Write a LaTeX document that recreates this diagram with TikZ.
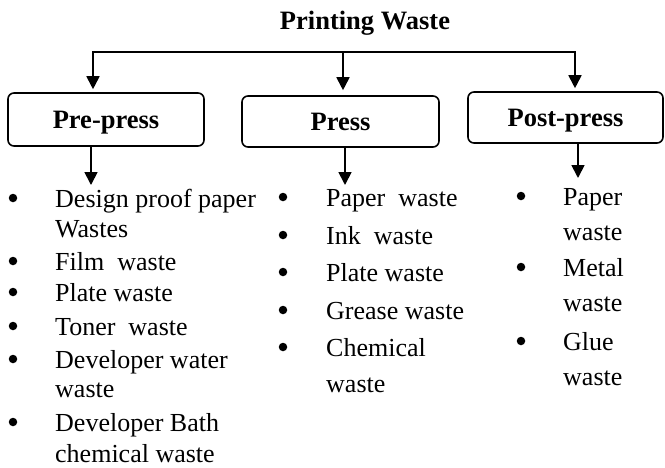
\documentclass[tikz,border=0pt]{standalone}
\usepackage{fontspec}
\setmainfont{Liberation Serif}
\usetikzlibrary{arrows.meta}
\begin{document}
\begin{tikzpicture}[x=1pt,y=-1pt,
  box/.style={draw,line width=1.6pt,rounded corners=6pt,inner sep=0pt,
    text height=18pt,text depth=0pt,font=\fontsize{26.5}{30}\selectfont\bfseries},
  arr/.style={line width=1.8pt,-{Triangle[length=13pt,width=13pt]}},
  item/.style={anchor=base west,inner sep=0pt,font=\fontsize{26}{30}\selectfont},
  dot/.style={circle,fill,inner sep=0pt,minimum size=8.5pt}]
\useasboundingbox (0,0) rectangle (665,467);
\node[anchor=base,inner sep=0pt,font=\fontsize{26.5}{30}\selectfont\bfseries] (title) at (365,29) {Printing Waste};
\node[box,minimum width=196pt,minimum height=53pt] (pre) at (106,119.5) {Pre-press};
\node[box,minimum width=197pt,minimum height=51pt] (press) at (340.5,121.5) {Press};
\node[box,minimum width=195pt,minimum height=51pt] (post) at (565.5,117.5) {Post-press};
\coordinate (j1) at (93,52);
\coordinate (j2) at (343,52);
\coordinate (j3) at (575,52);
\draw[arr,shorten >=3pt] (j2) -- (j1) -- (j1 |- pre.north);
\draw[arr,shorten >=3pt] (j2) -- (j3) -- (j3 |- post.north);
\draw[arr,shorten >=5pt] (j2) -- (j2 |- press.north);
\coordinate (pe) at (91,185);
\coordinate (re) at (345,185);
\coordinate (oe) at (578,178);
\draw[arr] (pe |- pre.south) -- (pe);
\draw[arr] (re |- press.south) -- (re);
\draw[arr] (oe |- post.south) -- (oe);
% pre-press list
\node[dot] (b1) at (13,198) {};
\node[item] (p1) at (55,207) {Design proof paper};
\node[item] (p1b) at (55,237) {Wastes};
\node[dot] (b2) at (13,261) {};
\node[item] (p2) at (55,270) {Film\ \ waste};
\node[dot] (b3) at (13,292) {};
\node[item] (p3) at (55,301) {Plate waste};
\node[dot] (b4) at (13,326) {};
\node[item] (p4) at (55,335) {Toner\ \ waste};
\node[dot] (b5) at (13,359) {};
\node[item] (p5) at (55,368) {Developer water};
\node[item] (p5b) at (55,397) {waste};
\node[dot] (b6) at (13,422) {};
\node[item] (p6) at (55,431) {Developer Bath};
\node[item] (p6b) at (55,462) {chemical waste};
% press list
\node[dot] (c1) at (283,197) {};
\node[item] (q1) at (326,206) {Paper\ \ waste};
\node[dot] (c2) at (283,235) {};
\node[item] (q2) at (326,244) {Ink\ \ waste};
\node[dot] (c3) at (283,272) {};
\node[item] (q3) at (326,281) {Plate waste};
\node[dot] (c4) at (283,310) {};
\node[item] (q4) at (326,319) {Grease waste};
\node[dot] (c5) at (283,347) {};
\node[item] (q5) at (326,356) {Chemical};
\node[item] (q5b) at (326,392) {waste};
% post-press list
\node[dot] (d1) at (521,196) {};
\node[item] (r1) at (563,205) {Paper};
\node[item] (r1b) at (563,240) {waste};
\node[dot] (d2) at (521,267) {};
\node[item] (r2) at (563,276) {Metal};
\node[item] (r2b) at (563,311) {waste};
\node[dot] (d3) at (521,341) {};
\node[item] (r3) at (563,350) {Glue};
\node[item] (r3b) at (563,385) {waste};
\end{tikzpicture}
\end{document}
